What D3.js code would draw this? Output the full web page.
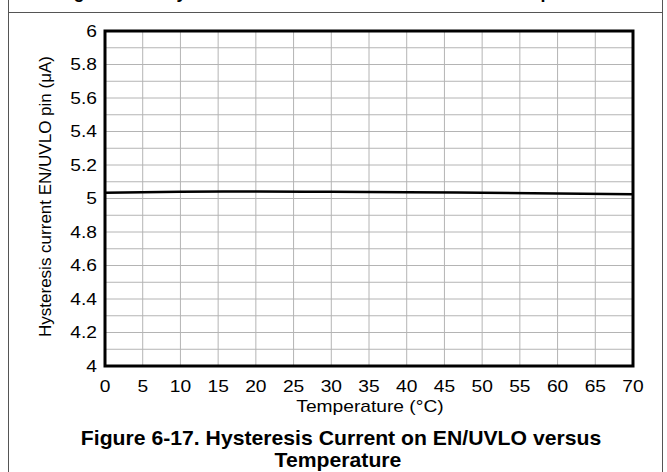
<!DOCTYPE html>
<html>
<head>
<meta charset="utf-8">
<script src="https://cdn.jsdelivr.net/npm/d3@7"></script>
<style>
  body { margin: 0; background: #fff; }
  text { font-family: "Liberation Sans", Arial, sans-serif; }
</style>
</head>
<body>
<svg id="chart" width="667" height="472"></svg>
<script>
// measured hysteresis current vs temperature
let temps = [0, 10, 20, 30, 40, 50, 60, 70];
let current = [5.035, 5.04, 5.042, 5.04, 5.038, 5.034, 5.03, 5.025];

let xTicks = d3.range(0, 71, 5);
let yTicks = [4, 4.2, 4.4, 4.6, 4.8, 5, 5.2, 5.4, 5.6, 5.8, 6];
let yGrid = d3.range(40, 61).map(d => d / 10);

let svgWidth = 667, svgHeight = 472;
let margin = {top: 31, right: 34, bottom: 106, left: 105};
let width = svgWidth - margin.left - margin.right,
    height = svgHeight - margin.top - margin.bottom;
let stretch = 1.2; // source text is a bit wide

let svg = d3.select('#chart');

// helper: text stretched horizontally around its anchor
function wideText(parent, px, py, str, size, anchor, bold, sx) {
    let t = parent.append("g")
        .attr("transform", "translate(" + px + "," + py + ") scale(" + (sx || stretch) + ",1)")
        .append("text")
        .attr("text-anchor", anchor)
        .attr("font-size", size)
        .attr("fill", "#000")
        .text(str);
    if (bold) t.attr("font-weight", "bold");
    return t;
}

// figure frame
svg.append("line")
    .attr("x1", 8.5).attr("x2", 8.5).attr("y1", 0).attr("y2", svgHeight)
    .attr("stroke", "#555").attr("stroke-width", 1);
svg.append("line")
    .attr("x1", 662.5).attr("x2", 662.5).attr("y1", 0).attr("y2", svgHeight)
    .attr("stroke", "#555").attr("stroke-width", 1);
svg.append("line")
    .attr("x1", 8.5).attr("x2", 662.5).attr("y1", 12.5).attr("y2", 12.5)
    .attr("stroke", "#555").attr("stroke-width", 1);

// heading of the previous figure, cut by the page edge
wideText(svg, 335, -2, "Figure 6-16. Hysteresis Current on EN/UVLO versus Temperature", 18, "middle", true, 1.0);

let g = svg.append("g")
    .attr("transform", "translate(" + margin.left + "," + margin.top + ")");

let x = d3.scaleLinear().domain([0, 70]).range([0, width]);
let y = d3.scaleLinear().domain([4, 6]).range([height, 0]);

// grid
g.append("g").selectAll("line")
    .data(xTicks)
    .enter().append("line")
    .attr("x1", d => x(d)).attr("x2", d => x(d))
    .attr("y1", 0).attr("y2", height)
    .attr("stroke", "#b4b4b4").attr("stroke-width", 1);

g.append("g").selectAll("line")
    .data(yGrid)
    .enter().append("line")
    .attr("x1", 0).attr("x2", width)
    .attr("y1", d => y(d)).attr("y2", d => y(d))
    .attr("stroke", "#b4b4b4").attr("stroke-width", 1);

// tick labels
xTicks.forEach(d => wideText(g, x(d), height + 26, d, 16, "middle"));
yTicks.forEach(d => wideText(g, -8, y(d) + 5.5, d3.format("")(d), 16, "end"));

// data line
let line = d3.line()
    .x((d, i) => x(temps[i]))
    .y(d => y(d))
    .curve(d3.curveMonotoneX);

g.append("path")
    .datum(current)
    .attr("d", line)
    .attr("fill", "none")
    .attr("stroke", "#000")
    .attr("stroke-width", 2.5);

// plot border
g.append("rect")
    .attr("x", 0).attr("y", 0)
    .attr("width", width).attr("height", height)
    .attr("fill", "none")
    .attr("stroke", "#000")
    .attr("stroke-width", 3);

// axis titles
wideText(svg, 370, 412, "Temperature (°C)", 16, "middle");

svg.append("text")
    .attr("transform", "translate(51," + (margin.top + height / 2 - 2) + ") rotate(-90)")
    .attr("text-anchor", "middle")
    .attr("font-size", 17)
    .text("Hysteresis current EN/UVLO pin (μA)");

// caption
wideText(svg, 341, 445, "Figure 6-17. Hysteresis Current on EN/UVLO versus", 20, "middle", true, 1.06);
wideText(svg, 338, 467, "Temperature", 20, "middle", true, 1.06);
</script>
</body>
</html>
